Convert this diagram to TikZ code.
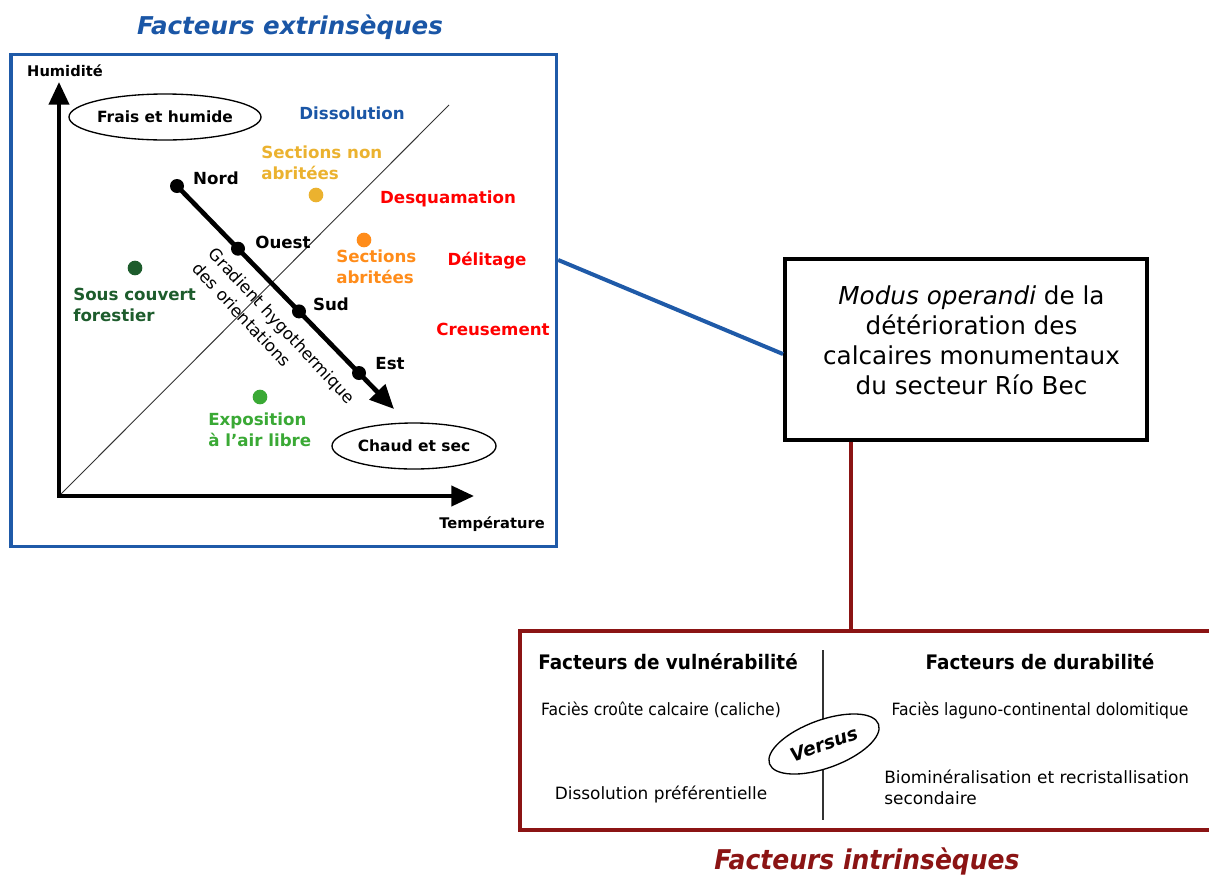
\documentclass[tikz,border=0pt]{standalone}
\usepackage{fontspec}
\setmainfont{DejaVu Sans}
\newfontfamily\condfont[FakeStretch=0.92]{DejaVu Sans}
\usetikzlibrary{arrows.meta,shapes.geometric}
\definecolor{extrblue}{HTML}{1A56A6}
\definecolor{boxblue}{HTML}{1F5AA8}
\definecolor{secyellow}{HTML}{EBB22F}
\definecolor{secorange}{HTML}{FF8C1A}
\definecolor{degred}{HTML}{FF0000}
\definecolor{forestgreen}{HTML}{1D5C2C}
\definecolor{opengreen}{HTML}{3AA935}
\definecolor{intrred}{HTML}{8B1414}
\definecolor{divgray}{HTML}{333333}
\begin{document}
\begin{tikzpicture}[x=0.75pt,y=-0.75pt,
  titlestyle/.style={inner sep=0, font=\fontsize{18.4}{22}\selectfont\bfseries\itshape},
  axlabel/.style={inner sep=0, font=\fontsize{11}{13}\selectfont\bfseries},
  lab/.style={inner sep=0, font=\fontsize{12.5}{15}\selectfont\bfseries},
  twoline/.style={inner sep=0, align=left, font=\fontsize{12.5}{15.5}\selectfont\bfseries},
  dotn/.style={circle, fill, inner sep=0, minimum size=10.5pt},
  cdot/.style={circle, fill, inner sep=0, minimum size=11pt},
  climell/.style={ellipse, draw, line width=1pt, inner sep=0, minimum width=123pt, minimum height=34.5pt, font=\fontsize{11.6}{13}\selectfont\bfseries},
  axis/.style={line width=3pt, {Triangle[length=17pt,width=15pt]}-{Triangle[length=17pt,width=15pt]}},
  gradarrow/.style={line width=3.5pt, -{Triangle[length=18pt,width=16pt]}},
  bigbox/.style={draw, rectangle, inner sep=0},
  headstyle/.style={inner sep=0, font=\condfont\fontsize{15}{18}\selectfont\bfseries},
  itemstyle/.style={inner sep=0, font=\condfont\fontsize{12.7}{16}\selectfont},
  itemwide/.style={inner sep=0, font=\fontsize{12.7}{15.5}\selectfont},
]
\useasboundingbox (0,0) rectangle (1209,875);

% ---------- extrinsic part ----------
\node[titlestyle, text=extrblue] (titleext) at (290,27) {Facteurs extrins\`eques};
\node[bigbox, draw=boxblue, line width=2.5pt, minimum width=409.1pt, minimum height=369pt] (extr) at (283.75,300.5) {};

\coordinate (orig) at (59,496);
\coordinate (ytip) at (59,82);
\coordinate (xtip) at (474,496);
\coordinate (diagtop) at (449,105);
\draw[line width=0.7pt, draw=divgray] (orig) -- (diagtop);
\draw[axis, line join=miter] (ytip) -- (orig) -- (xtip);

\node[axlabel] (hum) at (65,71) {Humidit\'e};
\node[axlabel] (temp) at (492,524) {Temp\'erature};

\node[climell] (frais) at (165,117) {Frais et humide};
\node[climell] (chaud) at (414,446) {Chaud et sec};

\node[lab, text=extrblue] (dissol) at (352,113) {Dissolution};
\node[lab, text=degred] (desq) at (448,199) {Desquamation};
\node[lab, text=degred] (delit) at (487,261) {D\'elitage};
\node[lab, text=degred] (creus) at (493,329) {Creusement};

\node[twoline, text=secyellow, anchor=west] (secnon) at (261,162.5) {Sections non\\abrit\'ees};
\node[cdot, fill=secyellow] (dotnon) at (316,195) {};
\node[twoline, text=secorange, anchor=west] (secab) at (336,267) {Sections\\abrit\'ees};
\node[cdot, fill=secorange] (dotab) at (364,240) {};
\node[twoline, text=forestgreen, anchor=west] (forest) at (73,305) {Sous couvert\\forestier};
\node[cdot, fill=forestgreen] (dotforest) at (135,268) {};
\node[twoline, text=opengreen, anchor=west] (expo) at (208,430) {Exposition\\\`a l'air libre};
\node[cdot, fill=opengreen] (dotexpo) at (260,397) {};

% gradient
\coordinate (gtip) at (394,409);
\node[dotn] (nord) at (177,186) {};
\node[dotn] (ouest) at (238,248.7) {};
\node[dotn] (sud) at (299,311.4) {};
\node[dotn] (est) at (359,373) {};
\draw[gradarrow] (nord.center) -- (gtip);
\node[lab] (lnord) at (216,178) {Nord};
\node[lab] (louest) at (283,242) {Ouest};
\node[lab] (lsud) at (331,304) {Sud};
\node[lab] (lest) at (390,364) {Est};
\node[inner sep=0, align=left, rotate=-47, font=\fontsize{12.5}{16.5}\selectfont] (gradtxt) at (274,333) {Gradient hygothermique\\des orientations};

% ---------- central box ----------
\node[bigbox, line width=3pt, minimum width=271.5pt, minimum height=135.75pt] (modus) at (966,349.5) {};
\node[inner sep=0, align=center, font=\fontsize{18.5}{22.5}\selectfont] (modustxt) at (971.5,340) {\textit{Modus operandi} de la\\d\'et\'erioration des\\calcaires monumentaux\\du secteur R\'io Bec};

\draw[boxblue, line width=3pt] ([yshift=30.4pt]extr.east) -- ([yshift=-3.4pt]modus.west);

% ---------- intrinsic part ----------
\node[bigbox, draw=intrred, line width=3pt, minimum width=521.25pt, minimum height=149.25pt] (intr) at (867.5,730.5) {};
\draw[intrred, line width=3pt] ([xshift=-86.25pt]modus.south) -- ([xshift=-86.25pt]modus.south |- intr.north);

\coordinate (dtop) at (823,650);
\coordinate (dbot) at (823,820);
\draw[divgray, line width=1.1pt] (dtop) -- (dbot);
\node[ellipse, draw, fill=white, line width=1pt, inner sep=0, minimum width=87pt, minimum height=36pt, rotate=20, font=\fontsize{14}{16}\selectfont\bfseries\itshape] (versus) at (824,744) {Versus};

\node[headstyle] (hvul) at (668,662) {Facteurs de vuln\'erabilit\'e};
\node[headstyle] (hdur) at (1040,662) {Facteurs de durabilit\'e};
\node[itemstyle] (v1) at (661,710) {Faci\`es cro\^ute calcaire (caliche)};
\node[itemwide] (v2) at (661,794) {Dissolution pr\'ef\'erentielle};
\node[itemstyle] (d1) at (1040,710) {Faci\`es laguno-continental dolomitique};
\node[itemwide, align=left, anchor=west] (d2) at (884,787) {Biomin\'eralisation et recristallisation\\secondaire};

\node[inner sep=0, text=intrred, font=\condfont\fontsize{20.4}{24}\selectfont\bfseries\itshape] (titleint) at (867,861) {Facteurs intrins\`eques};
\end{tikzpicture}
\end{document}
